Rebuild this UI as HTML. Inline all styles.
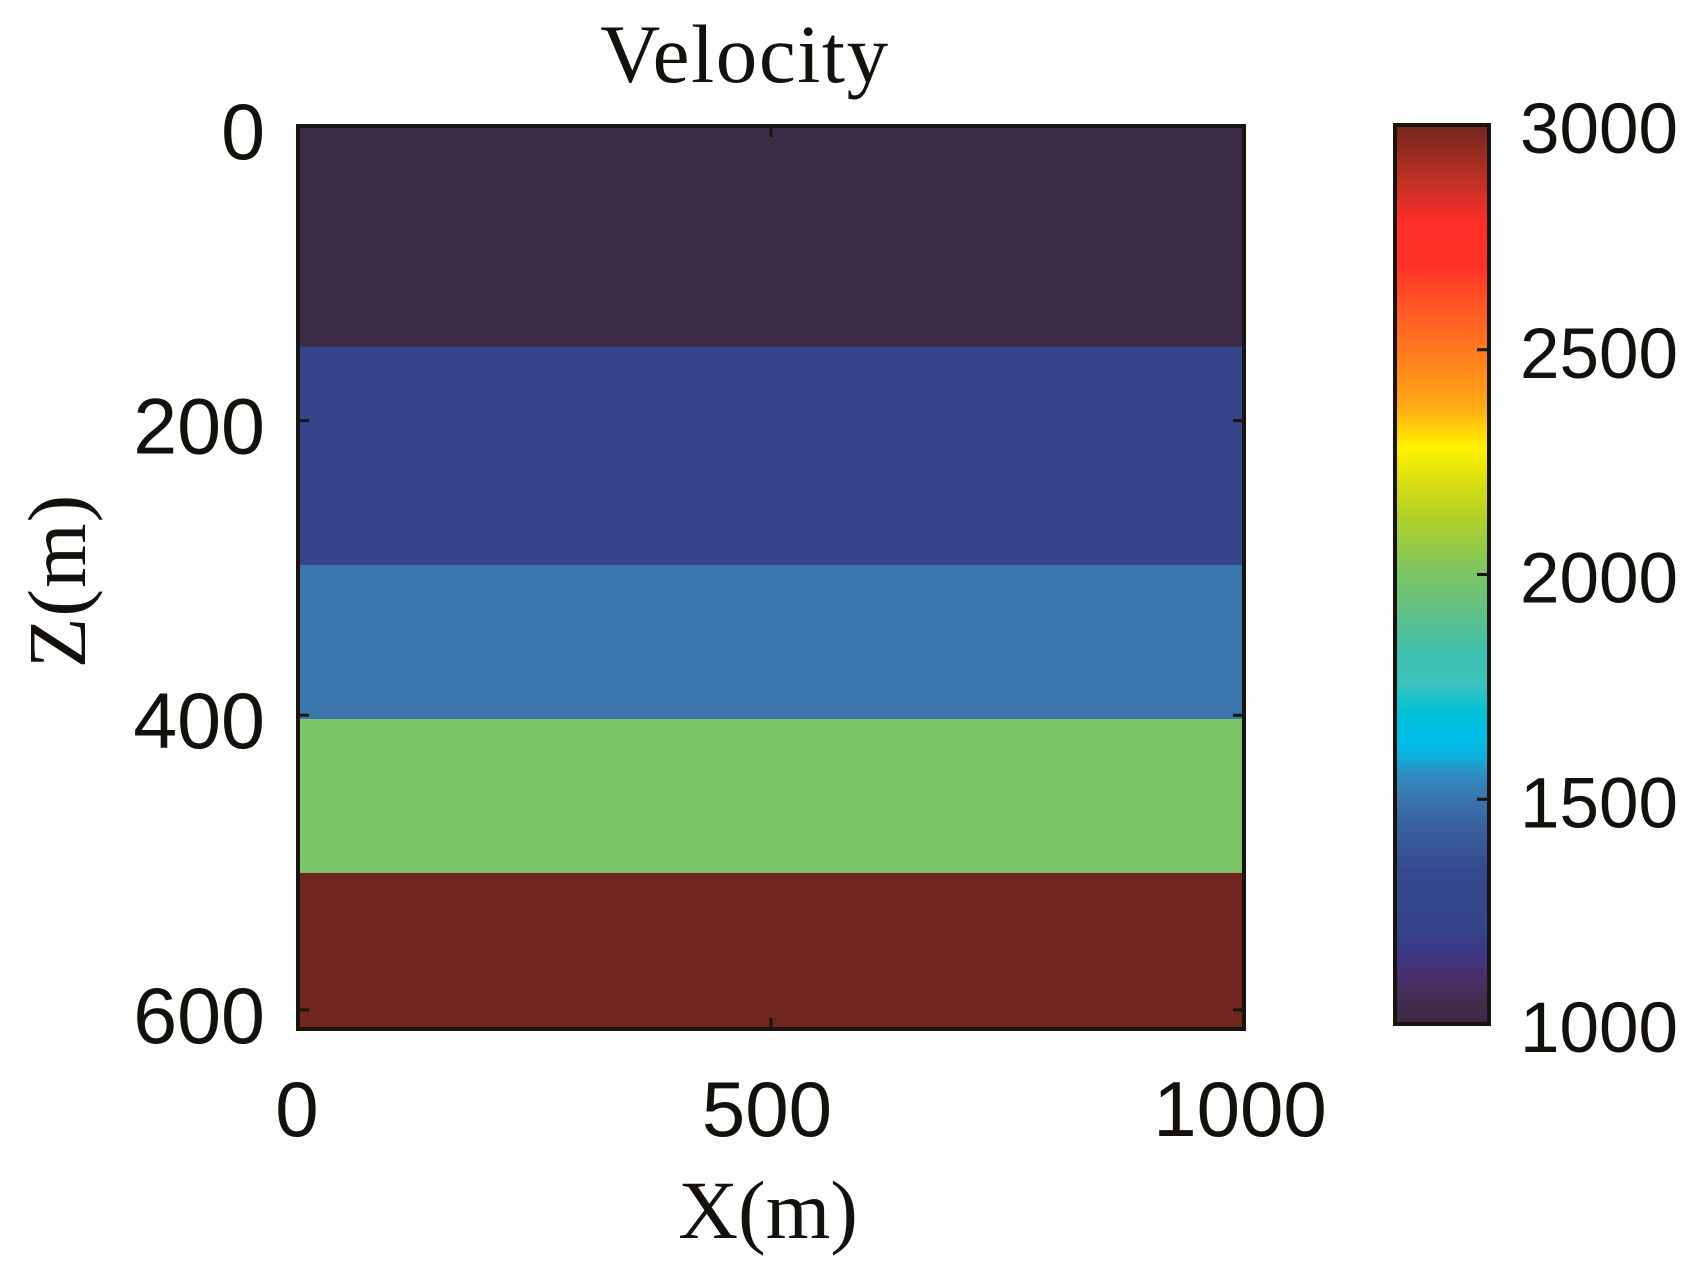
<!DOCTYPE html>
<html lang="en">
<head>
<meta charset="utf-8">
<title>Velocity</title>
<style>
html,body{margin:0;padding:0;background:#fdfdfd;width:1708px;height:1275px;overflow:hidden}
svg{display:block}
.sans{font-family:"Liberation Sans",sans-serif;fill:#14100c}
.serif{font-family:"Liberation Serif",serif;fill:#14100c}
</style>
</head>
<body>
<svg id="chart" xmlns="http://www.w3.org/2000/svg" width="1708" height="1275" viewBox="0 0 1708 1275">
  <rect x="0" y="0" width="1708" height="1275" fill="#fdfdfd"/>
  <defs><linearGradient id="cbar-gradient" x1="0" y1="0" x2="0" y2="1"></linearGradient></defs>
  <g id="layers"></g>
  <g id="colorbar"></g>
  <g id="axes"></g>
  <text class="serif" x="745" y="82" font-size="83" letter-spacing="1.6" text-anchor="middle">Velocity</text>
  <text class="serif" x="768" y="1238" font-size="83" text-anchor="middle">X(m)</text>
  <text class="serif" x="0" y="0" font-size="83" letter-spacing="1" text-anchor="middle" transform="translate(85 581) rotate(-90)">Z(m)</text>
</svg>
<script>
// Data
const layerTops = [0, 150, 298, 402.6, 507];
const layerBottoms = [150, 298, 402.6, 507, 613];
const layerVelocities = [1000, 1216, 1500, 2000, 3000];
const xTicks = [0, 500, 1000];
const zTicks = [0, 200, 400, 600];
const colorbarTicks = [1000, 1500, 2000, 2500, 3000];
const xDomain = [0, 1000];
const zDomain = [0, 613];
const velocityDomain = [1000, 3000];
const cmapValues = [1000, 1053, 1113, 1164, 1216, 1336, 1438, 1500, 1558, 1593, 1631, 1691, 1758, 1822, 1909, 2000, 2120, 2196, 2282, 2376, 2487, 2587, 2689, 2782, 2887, 3000];
const cmapColors = ['#3b2a45', '#432d50', '#483070', '#3a3885', '#35448b', '#36488f', '#3a60a0', '#3a75ad', '#2f8fc4', '#10aed8', '#00bde8', '#00c0d8', '#3cc3bc', '#3fc0b0', '#5ec088', '#7bc467', '#aed02c', '#d4dc12', '#fff200', '#ffa816', '#ff7d1e', '#ff5a25', '#ff3228', '#ff2e28', '#b83026', '#70261e'];

const NS = 'http://www.w3.org/2000/svg';
const plot = {left: 298, right: 1244, top: 126, bottom: 1029};
const bar = {left: 1395, right: 1489, top: 125, bottom: 1024};

function scaleX(v) {
  return plot.left + (v - xDomain[0]) / (xDomain[1] - xDomain[0]) * (plot.right - plot.left);
}
function scaleZ(v) {
  return plot.top + (v - zDomain[0]) / (zDomain[1] - zDomain[0]) * (plot.bottom - plot.top);
}
function scaleV(v) {
  return bar.bottom - (v - velocityDomain[0]) / (velocityDomain[1] - velocityDomain[0]) * (bar.bottom - bar.top);
}
function hexToRgb(h) {
  return [parseInt(h.slice(1, 3), 16), parseInt(h.slice(3, 5), 16), parseInt(h.slice(5, 7), 16)];
}
function colorFor(v) {
  if (v <= cmapValues[0]) return cmapColors[0];
  for (let i = 1; i < cmapValues.length; i++) {
    if (v <= cmapValues[i]) {
      const t = (v - cmapValues[i - 1]) / (cmapValues[i] - cmapValues[i - 1]);
      const a = hexToRgb(cmapColors[i - 1]);
      const b = hexToRgb(cmapColors[i]);
      return 'rgb(' + a.map((c, k) => Math.round(c + (b[k] - c) * t)).join(',') + ')';
    }
  }
  return cmapColors[cmapColors.length - 1];
}
function make(tag, attrs) {
  const el = document.createElementNS(NS, tag);
  for (const k in attrs) el.setAttribute(k, attrs[k]);
  return el;
}

const layersG = document.getElementById('layers');
const colorbarG = document.getElementById('colorbar');
const axesG = document.getElementById('axes');

// Layers
layerTops.forEach((top, i) => {
  const y0 = scaleZ(top);
  const y1 = scaleZ(layerBottoms[i]);
  const r = make('rect', {x: plot.left, y: y0, width: plot.right - plot.left, height: y1 - y0, fill: colorFor(layerVelocities[i])});
  
  
  layersG.appendChild(r);
});

// Plot frame
const frame = make('rect', {x: plot.left, y: plot.top, width: plot.right - plot.left, height: plot.bottom - plot.top, fill: 'none', stroke: '#1a1410', 'stroke-width': 4});


axesG.appendChild(frame);

// X ticks
xTicks.forEach((v) => {
  const x = scaleX(v);
  [[plot.top, plot.top + 11], [plot.bottom, plot.bottom - 11]].forEach((p) => {
    const t = make('line', {x1: x, x2: x, y1: p[0], y2: p[1], stroke: '#1a1410', 'stroke-width': 3});
    
    
    axesG.appendChild(t);
  });
  const label = make('text', {x: v === xDomain[0] ? x - 1 : x - 4, y: 1136, 'text-anchor': 'middle', 'font-size': 78, class: 'sans'});
  
  
  label.textContent = String(v);
  axesG.appendChild(label);
});

// Z ticks
zTicks.forEach((v) => {
  const y = scaleZ(v);
  [[plot.left, plot.left + 11], [plot.right, plot.right - 11]].forEach((p) => {
    const t = make('line', {x1: p[0], x2: p[1], y1: y, y2: y, stroke: '#1a1410', 'stroke-width': 3});
    
    
    axesG.appendChild(t);
  });
  const label = make('text', {x: 265, y: y + 33, 'text-anchor': 'end', 'font-size': 79, class: 'sans'});
  
  
  label.textContent = String(v);
  axesG.appendChild(label);
});

// Colorbar
const grad = document.getElementById('cbar-gradient');
cmapValues.forEach((v, i) => {
  const off = (velocityDomain[1] - v) / (velocityDomain[1] - velocityDomain[0]);
  grad.insertBefore(make('stop', {offset: off, 'stop-color': cmapColors[i]}), grad.firstChild);
});
const barFill = make('rect', {x: bar.left, y: bar.top, width: bar.right - bar.left, height: bar.bottom - bar.top, fill: 'url(#cbar-gradient)'});


colorbarG.appendChild(barFill);
const barFrame = make('rect', {x: bar.left, y: bar.top, width: bar.right - bar.left, height: bar.bottom - bar.top, fill: 'none', stroke: '#1a1410', 'stroke-width': 4});


colorbarG.appendChild(barFrame);
colorbarTicks.forEach((v) => {
  const y = scaleV(v);
  const t = make('line', {x1: bar.right, x2: bar.right - 12, y1: y, y2: y, stroke: '#1a1410', 'stroke-width': 3});
  
  
  colorbarG.appendChild(t);
  const label = make('text', {x: 1678, y: y + 28, 'text-anchor': 'end', 'font-size': 71, class: 'sans'});
  
  
  label.textContent = String(v);
  colorbarG.appendChild(label);
});
</script>
</body>
</html>
